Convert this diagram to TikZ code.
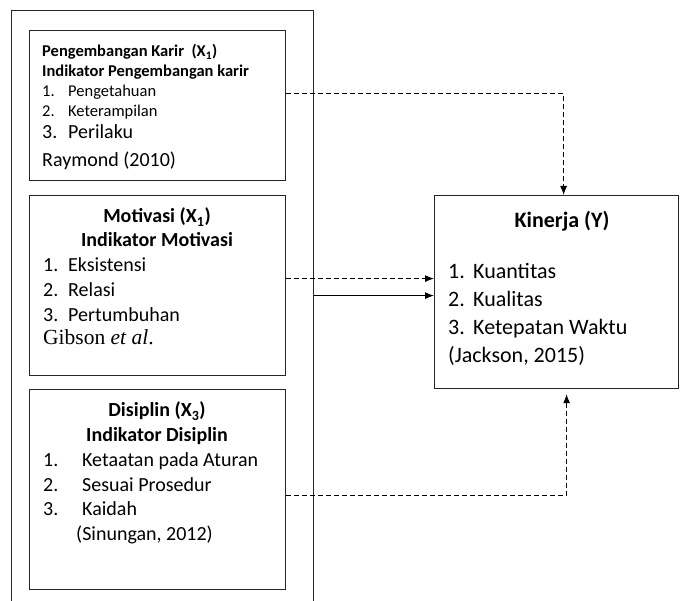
\documentclass[tikz,border=0pt]{standalone}
\usepackage{fontspec}
\setmainfont{Carlito}
\newfontfamily\gibsonfont{Liberation Serif}
\usetikzlibrary{arrows.meta,positioning}

\newcommand{\entry}[3][26pt]{\makebox[#1][l]{#2}#3}

\tikzset{
  panel/.style={draw=black!85,line width=1.2pt,inner sep=0pt,anchor=north west},
  txt/.style={anchor=base west,inner sep=0pt},
  headc/.style={anchor=base,inner sep=0pt},
  fsmall/.style={font=\fontsize{16.5}{20}\selectfont},
  fsmallb/.style={font=\bfseries\fontsize{16.5}{20}\selectfont},
  fmid/.style={font=\fontsize{20}{24}\selectfont},
  fmidb/.style={font=\bfseries\fontsize{20}{24}\selectfont},
  fbig/.style={font=\fontsize{22}{26}\selectfont},
  fbigb/.style={font=\bfseries\fontsize{22}{26}\selectfont},
  link/.style={line width=1pt,->},
  dashlink/.style={link,dash pattern=on 5pt off 3pt},
}

\begin{document}
\begin{tikzpicture}[x=1pt,y=-1pt,>={Latex[length=9pt,width=7pt]}]
  \useasboundingbox (0,0) rectangle (680,601);
  \clip (0,0) rectangle (680,601);
  % frames
  \node[panel,minimum width=302pt,minimum height=620pt] (outer) at (11,10) {};
  \node[panel,minimum width=256pt,minimum height=150pt] (karir) at (29,30) {};
  \node[panel,minimum width=256pt,minimum height=180pt] (motivasi) at (29,195) {};
  \node[panel,minimum width=256pt,minimum height=200pt] (disiplin) at (29,389) {};
  \node[panel,minimum width=244pt,minimum height=193pt] (kinerja) at (434,195) {};

  % Pengembangan karir
  \node[txt,fsmallb] (karirhead) at (42,57) {Pengembangan Karir\ \ (X\textsubscript{1})};
  \node[txt,fsmallb] (karirind) at (42,77) {Indikator Pengembangan karir};
  \node[txt,fsmall] (karirone) at (42,97) {\entry{1.}{Pengetahuan}};
  \node[txt,fsmall] (karirtwo) at (42,117) {\entry{2.}{Keterampilan}};
  \node[txt,fmid] (karirthree) at (42,139) {\entry{3.}{Perilaku}};
  \node[txt,fmid] (karirsrc) at (42,167) {Raymond (2010)};

  % Motivasi
  \node[headc,fmidb] (motivhead) at (157,223) {Motivasi (X\textsubscript{1})};
  \node[headc,fmidb] (motivind) at (157,247) {Indikator Motivasi};
  \node[txt,fmid] (motivone) at (43,272) {\entry[25pt]{1.}{Eksistensi}};
  \node[txt,fmid] (motivtwo) at (43,297) {\entry[25pt]{2.}{Relasi}};
  \node[txt,fmid] (motivthree) at (43,322) {\entry[25pt]{3.}{Pertumbuhan}};
  \node[txt,font=\gibsonfont\fontsize{21.5}{25}\selectfont] (motivsrc) at (43,345) {Gibson \textit{et al}.};

  % Disiplin
  \node[headc,fmidb] (disiphead) at (157,417) {Disiplin (X\textsubscript{3})};
  \node[headc,fmidb] (disipind) at (157,441) {Indikator Disiplin};
  \node[txt,fmid] (disipone) at (43,466) {\entry[39pt]{1.}{Ketaatan pada Aturan}};
  \node[txt,fmid] (disiptwo) at (43,491) {\entry[39pt]{2.}{Sesuai Prosedur}};
  \node[txt,fmid] (disipthree) at (43,515) {\entry[39pt]{3.}{Kaidah}};
  \node[txt,fmid] (disipsrc) at (76,540) {(Sinungan, 2012)};

  % Kinerja
  \node[headc,fbigb] (kinerjahead) at (562,228) {Kinerja (Y)};
  \node[txt,fbig] (kinerjaone) at (448,279) {\entry[25pt]{1.}{Kuantitas}};
  \node[txt,fbig] (kinerjatwo) at (448,307) {\entry[25pt]{2.}{Kualitas}};
  \node[txt,fbig] (kinerjathree) at (448,335) {\entry[25pt]{3.}{Ketepatan Waktu}};
  \node[txt,fbig] (kinerjasrc) at (448,363) {(Jackson, 2015)};

  % connectors
  \path (karir.east) ++(0,-12) coordinate (karirout);
  \path (motivasi.east) ++(0,-7) coordinate (motivdash);
  \path (motivasi.east) ++(0,10) coordinate (motivline);
  \path (disiplin.east) ++(0,6) coordinate (disipout);
  \draw[dashlink] (karirout) -| ([xshift=7pt]kinerja.north);
  \draw[dashlink] (motivdash) -- (motivdash -| kinerja.west);
  \draw[link] (motivline -| outer.east) -- (motivline -| kinerja.west);
  \draw[dashlink,shorten >=5pt] (disipout) -| ([xshift=10pt]kinerja.south);
\end{tikzpicture}
\end{document}
